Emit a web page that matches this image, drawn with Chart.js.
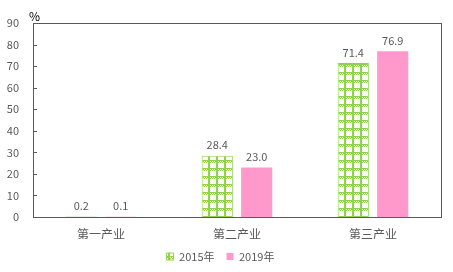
<!DOCTYPE html>
<html><head><meta charset="utf-8">
<script src="https://cdn.jsdelivr.net/npm/chart.js@4/dist/chart.umd.min.js"></script>
<style>html,body{margin:0;padding:0;background:#fff}#wrap{width:453px;height:272px}</style>
</head><body><div id="wrap"><canvas id="c" width="453" height="272"></canvas></div>
<script>
const categories = ['第一产业', '第二产业', '第三产业'];
const series2015 = [0.2, 28.4, 71.4];
const series2019 = [0.1, 23.0, 76.9];
const seriesNames = ['2015年', '2019年'];
const yTicks = [0, 10, 20, 30, 40, 50, 60, 70, 80, 90];

const GREEN = '#92D050', PINK = '#FF99CC', TXT = '#595959';
const FONT = "'Noto Sans CJK SC', 'Liberation Sans', sans-serif";

function makePattern() {
  const t = document.createElement('canvas');
  t.width = 8; t.height = 8;
  const g = t.getContext('2d');
  g.fillStyle = '#ffffff'; g.fillRect(0, 0, 8, 8);
  g.fillStyle = GREEN;
  g.fillRect(0, 0, 2, 8);
  g.fillRect(0, 0, 8, 1);
  for (let y = 1; y < 3; y++) for (let x = 2; x < 8; x++) if ((x + y) % 2 === 0) g.fillRect(x, y, 1, 1);
  return g.createPattern(t, 'repeat');
}
const pat = makePattern();

const extras = {
  id: 'extras',
  afterDraw(chart) {
    const ctx = chart.ctx, a = chart.chartArea, ys = chart.scales.y;
    ctx.save();
    ctx.strokeStyle = '#595959'; ctx.lineWidth = 1;
    ctx.strokeRect(Math.round(a.left) + 0.5, Math.round(a.top) + 0.5, Math.round(a.right - a.left), Math.round(a.bottom - a.top));
    yTicks.forEach(v => {
      const y = Math.round(ys.getPixelForValue(v)) + 0.5;
      ctx.beginPath(); ctx.moveTo(a.left, y); ctx.lineTo(a.left + 4, y); ctx.stroke();
    });
    ctx.fillStyle = '#000'; ctx.font = '12px ' + FONT; ctx.textAlign = 'left'; ctx.textBaseline = 'bottom';
    ctx.fillText('%', 29, 22);
    ctx.fillStyle = TXT; ctx.font = '11px ' + FONT; ctx.textAlign = 'center'; ctx.textBaseline = 'bottom';
    chart.data.datasets.forEach((ds, di) => {
      chart.getDatasetMeta(di).data.forEach((bar, i) => {
        ctx.fillText(ds.data[i].toFixed(1), bar.x, bar.y - 5);
      });
    });
    ctx.restore();
  }
};

new Chart(document.getElementById('c'), {
  type: 'bar',
  data: {
    labels: categories,
    datasets: [
      { label: seriesNames[0], data: series2015, backgroundColor: pat, borderColor: GREEN, borderWidth: 1 },
      { label: seriesNames[1], data: series2019, backgroundColor: PINK, borderWidth: 0 }
    ]
  },
  options: {
    responsive: false, animation: false,
    devicePixelRatio: 1,
    layout: { padding: { top: 23, right: 12, left: 0, bottom: 0 } },
    datasets: { bar: { categoryPercentage: 0.58, barPercentage: 0.79 } },
    plugins: {
      legend: {
        position: 'bottom',
        labels: { boxWidth: 7, boxHeight: 7, color: TXT, font: { family: FONT, size: 11 }, padding: 12 }
      },
      tooltip: { enabled: false }
    },
    scales: {
      x: {
        grid: { display: false, drawTicks: false },
        border: { display: false },
        ticks: { color: TXT, font: { family: FONT, size: 12 }, padding: 10 },
        afterFit(s) { s.height = 22; }
      },
      y: {
        min: 0, max: 90,
        afterBuildTicks(s) { s.ticks = yTicks.map(v => ({ value: v })); },
        grid: { display: false, drawTicks: false },
        border: { display: false },
        ticks: { color: TXT, font: { family: FONT, size: 11 }, padding: 14 },
        afterFit(s) { s.width = 33; }
      }
    }
  },
  plugins: [extras]
});
</script>
</body></html>
